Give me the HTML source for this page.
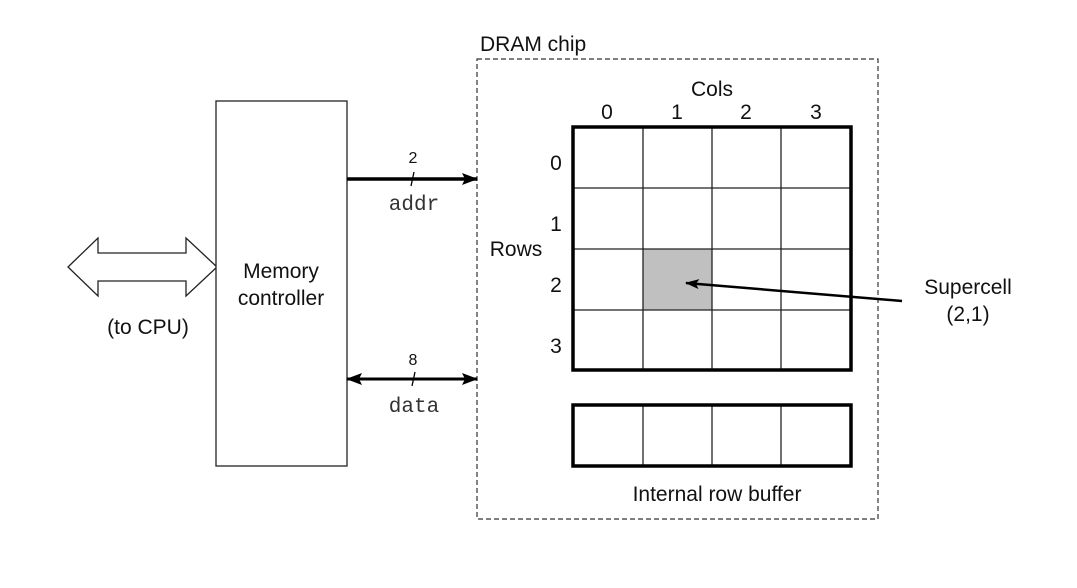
<!DOCTYPE html>
<html><head><meta charset="utf-8"><style>
body{margin:0;background:#fff;}
svg{display:block;}
text{font-family:"Liberation Sans",Arial,sans-serif;fill:#111;}
.m{font-family:"Liberation Mono",monospace;fill:#333;}
</style></head><body>
<svg width="1077" height="588" viewBox="0 0 1077 588" xmlns="http://www.w3.org/2000/svg">
<defs>
<marker id="ah" markerWidth="16" markerHeight="12" refX="15" refY="6" orient="auto" markerUnits="userSpaceOnUse"><path d="M0,0 L16,6 L0,12 L3,6 z" fill="#000"/></marker>
<marker id="ahs" markerWidth="16" markerHeight="12" refX="15" refY="6" orient="auto-start-reverse" markerUnits="userSpaceOnUse"><path d="M0,0 L16,6 L0,12 L3,6 z" fill="#000"/></marker>
<marker id="sm" markerWidth="14" markerHeight="10" refX="13" refY="5" orient="auto" markerUnits="userSpaceOnUse"><path d="M0,0 L14,5 L0,10 L3,5 z" fill="#000"/></marker>
</defs>
<path d="M68,267 L98,238 L98,253 L186,253 L186,238 L217,267 L186,296 L186,281 L98,281 L98,296 Z" fill="#fff" stroke="#222" stroke-width="1.3"/>
<text x="148" y="334" font-size="21" text-anchor="middle">(to CPU)</text>
<rect x="216" y="101" width="131" height="365" fill="#fff" stroke="#222" stroke-width="1.3"/>
<text x="281" y="278" font-size="21" text-anchor="middle">Memory</text>
<text x="281" y="305" font-size="21" text-anchor="middle">controller</text>
<rect x="477" y="59" width="401" height="460" fill="none" stroke="#333" stroke-width="1.2" stroke-dasharray="5,3"/>
<text x="480" y="51" font-size="21">DRAM chip</text>
<line x1="347" y1="179" x2="477" y2="179" stroke="#000" stroke-width="3.5" marker-end="url(#ah)"/>
<line x1="411" y1="186" x2="414" y2="172" stroke="#000" stroke-width="1.3"/>
<text x="413" y="163" font-size="16" text-anchor="middle">2</text>
<text x="414" y="210" font-size="21" text-anchor="middle" class="m">addr</text>
<line x1="347" y1="379" x2="477" y2="379" stroke="#000" stroke-width="3" marker-start="url(#ahs)" marker-end="url(#ahs)"/>
<line x1="412" y1="386" x2="415" y2="372" stroke="#000" stroke-width="1.3"/>
<text x="413" y="365" font-size="16" text-anchor="middle">8</text>
<text x="414" y="412" font-size="21" text-anchor="middle" class="m">data</text>
<rect x="643" y="249" width="69" height="61" fill="#c0c0c0"/>
<g stroke="#222" stroke-width="1.3">
<line x1="643" y1="127" x2="643" y2="370"/><line x1="712" y1="127" x2="712" y2="370"/><line x1="781" y1="127" x2="781" y2="370"/>
<line x1="573" y1="188" x2="851" y2="188"/><line x1="573" y1="249" x2="851" y2="249"/><line x1="573" y1="310" x2="851" y2="310"/>
<line x1="643" y1="405" x2="643" y2="466"/><line x1="712" y1="405" x2="712" y2="466"/><line x1="781" y1="405" x2="781" y2="466"/>
</g>
<rect x="573" y="127" width="278" height="243" fill="none" stroke="#000" stroke-width="3.5"/>
<rect x="573" y="405" width="278" height="61" fill="none" stroke="#000" stroke-width="3.5"/>
<text x="712" y="96" font-size="21" text-anchor="middle">Cols</text>
<g font-size="21" text-anchor="middle">
<text x="607" y="119">0</text><text x="677" y="119">1</text><text x="746" y="119">2</text><text x="816" y="119">3</text>
<text x="556" y="170">0</text><text x="556" y="231">1</text><text x="556" y="292">2</text><text x="556" y="353">3</text>
</g>
<text x="516" y="256" font-size="21" text-anchor="middle">Rows</text>
<text x="717" y="501" font-size="21" text-anchor="middle">Internal row buffer</text>
<line x1="902" y1="301" x2="686" y2="283" stroke="#000" stroke-width="2.5" marker-end="url(#sm)"/>
<text x="968" y="294" font-size="21" text-anchor="middle">Supercell</text>
<text x="968" y="321" font-size="21" text-anchor="middle">(2,1)</text>
</svg>
</body></html>
